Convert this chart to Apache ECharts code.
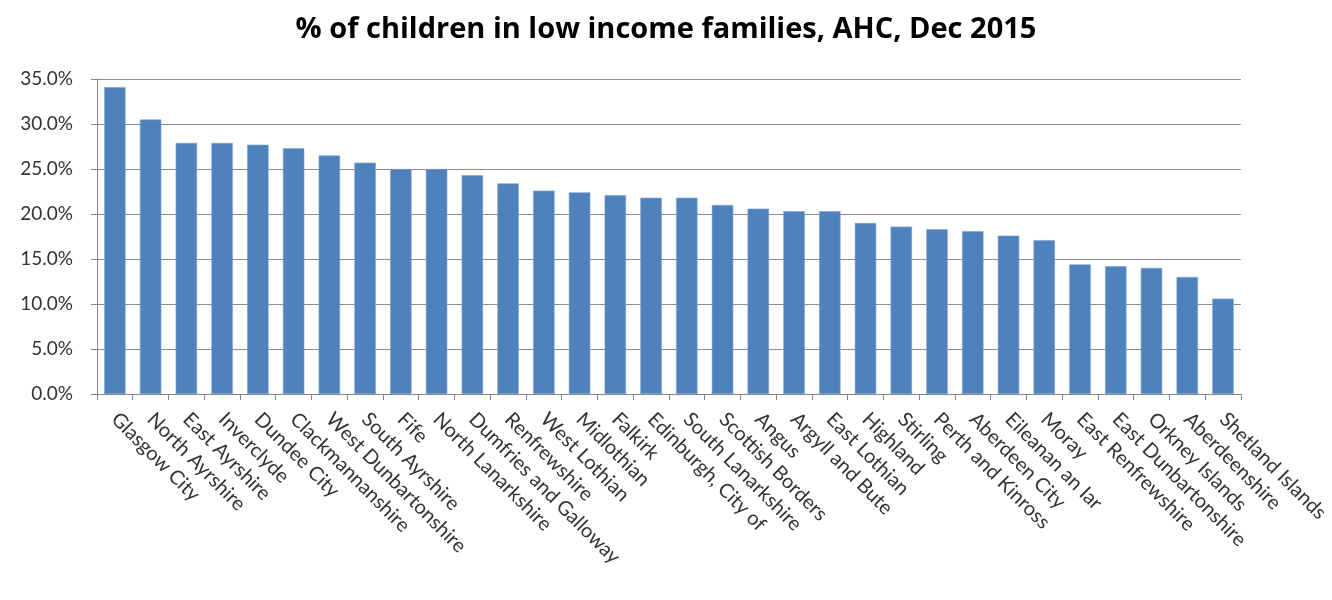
<!DOCTYPE html>
<html>
<head>
<meta charset="utf-8">
<script src="https://cdn.jsdelivr.net/npm/echarts@6/dist/echarts.min.js"></script>
<style>
html,body{margin:0;padding:0;background:#fff;}
#chart{width:1332px;height:600px;}
</style>
</head>
<body>
<div id="chart"></div>
<script>
const titleText = '% of children in low income families, AHC, Dec 2015';
const categories = ['Glasgow City','North Ayrshire','East Ayrshire','Inverclyde','Dundee City','Clackmannanshire','West Dunbartonshire','South Ayrshire','Fife','North Lanarkshire','Dumfries and Galloway','Renfrewshire','West Lothian','Midlothian','Falkirk','Edinburgh, City of','South Lanarkshire','Scottish Borders','Angus','Argyll and Bute','East Lothian','Highland','Stirling','Perth and Kinross','Aberdeen City','Eileanan an Iar','Moray','East Renfrewshire','East Dunbartonshire','Orkney Islands','Aberdeenshire','Shetland Islands'];
const values = [34.1,30.5,27.9,27.9,27.7,27.3,26.5,25.7,25.0,25.0,24.3,23.4,22.6,22.4,22.1,21.8,21.8,21.0,20.6,20.3,20.3,19.0,18.6,18.3,18.1,17.6,17.1,14.4,14.2,14.0,13.0,10.6];
const yTicks = [0,5,10,15,20,25,30,35];

const chart = echarts.init(document.getElementById('chart'), null, {renderer:'canvas'});
chart.setOption({
  animation:false,
  backgroundColor:'#ffffff',
  title:{
    text:titleText,
    left:'center',
    top:10,
    textStyle:{fontFamily:'Open Sans',fontWeight:'bold',fontSize:29,color:'#000'}
  },
  grid:{left:97,right:86,top:79,bottom:206},
  xAxis:{
    type:'category',
    data:categories,
    axisLine:{lineStyle:{color:'#868686',width:1}},
    axisTick:{show:true,length:6,lineStyle:{color:'#868686'}},
    axisLabel:{rotate:-45,interval:0,fontFamily:'Lato',fontSize:20,color:'#333',margin:22}
  },
  yAxis:{
    type:'value',
    min:yTicks[0],
    max:yTicks[yTicks.length-1],
    interval:5,
    axisLine:{show:true,lineStyle:{color:'#868686',width:1}},
    axisTick:{show:true,length:6,lineStyle:{color:'#868686'}},
    splitLine:{show:true,lineStyle:{color:'#8c8c8c',width:1}},
    axisLabel:{fontFamily:'Lato',fontSize:19,color:'#333',margin:24,formatter:v=>v.toFixed(1)+'%'}
  },
  series:[{
    type:'bar',
    data:values,
    barCategoryGap:'40%',
    itemStyle:{color:'#4F81BD',borderColor:'#7ea2cf',borderWidth:0.6}
  }]
});
</script>
</body>
</html>
